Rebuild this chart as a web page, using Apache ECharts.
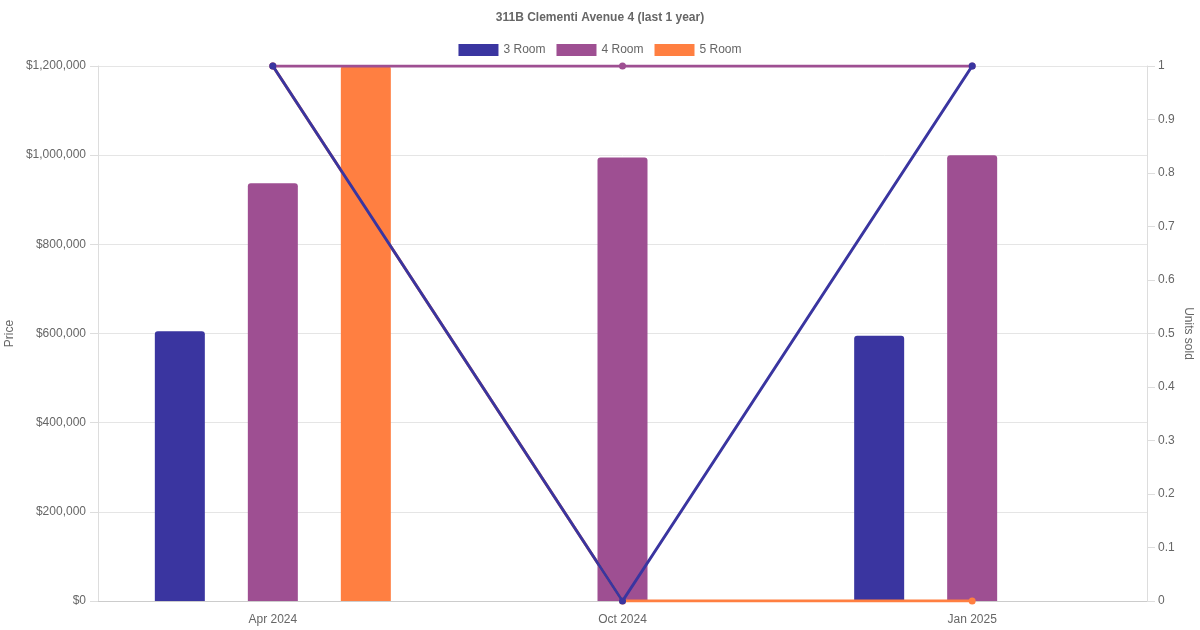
<!DOCTYPE html>
<html>
<head>
<meta charset="utf-8">
<title>311B Clementi Avenue 4</title>
<script src="https://cdn.jsdelivr.net/npm/echarts@6/dist/echarts.min.js"></script>
<style>
html, body { margin: 0; padding: 0; background: #fff; }
#main { width: 1200px; height: 630px; }
</style>
</head>
<body>
<div id="main"></div>
<script>
// chart data
var months = ['Apr 2024', 'Oct 2024', 'Jan 2025'];
var roomTypes = ['3 Room', '4 Room', '5 Room'];
var price3 = [605000, null, 595000];
var price4 = [937000, 995000, 1000000];
var price5 = [1200000, null, null];
var units3 = [1, 0, 1];
var units4 = [1, 1, 1];
var units5 = [1, 0, 0];
var colors = ['#3a35a0', '#9e4f92', '#ff7f41'];

var font = 'Liberation Sans, Arial, sans-serif';
var myChart = echarts.init(document.getElementById('main'));

function barSeries(i, data) {
	return {
		name: roomTypes[i],
		type: 'bar',
		yAxisIndex: 0,
		barWidth: 50,
		barGap: '86%',
		data: data,
		itemStyle: { color: colors[i], borderRadius: [3, 3, 0, 0] },
		z: 2
	};
}

function lineSeries(i, data, z) {
	return {
		name: roomTypes[i],
		type: 'line',
		yAxisIndex: 1,
		data: data,
		symbol: 'circle',
		symbolSize: 7,
		lineStyle: { width: 3, color: colors[i] },
		itemStyle: { color: colors[i] },
		z: z
	};
}

var option = {
	animation: false,
	textStyle: { fontFamily: font },
	title: {
		text: '311B Clementi Avenue 4 (last 1 year)',
		left: 'center',
		top: 7,
		textStyle: { fontSize: 12, fontWeight: 'bold', color: '#666', fontFamily: font }
	},
	legend: {
		data: roomTypes,
		top: 39,
		left: 'center',
		icon: 'rect',
		itemWidth: 40,
		itemHeight: 12,
		itemGap: 11,
		textStyle: { fontSize: 12, color: '#666', fontFamily: font }
	},
	grid: { left: 98, right: 53, top: 66, bottom: 29, outerBoundsMode: 'none', containLabel: false },
	xAxis: {
		type: 'category',
		data: months,
		axisLine: { lineStyle: { color: '#ccc' } },
		axisTick: { show: false },
		axisLabel: { fontSize: 12, color: '#666', margin: 13 },
		splitLine: { show: false }
	},
	yAxis: [{
		type: 'value',
		name: 'Price',
		nameLocation: 'middle',
		nameGap: 82,
		nameMoveOverlap: false,
		nameTextStyle: { fontSize: 12, color: '#666' },
		min: 0,
		max: 1200000,
		interval: 200000,
		axisLine: { show: true, lineStyle: { color: '#ddd' } },
		axisTick: { show: true, length: 8, lineStyle: { color: '#ddd' } },
		axisLabel: {
			fontSize: 12, color: '#666', margin: 12,
			formatter: function(v) { return '$' + v.toLocaleString('en-US'); }
		},
		splitLine: { lineStyle: { color: '#e5e5e5' } }
	}, {
		type: 'value',
		name: 'Units sold',
		nameLocation: 'middle',
		nameGap: 35,
		nameMoveOverlap: false,
		nameRotate: -90,
		nameTextStyle: { fontSize: 12, color: '#666' },
		min: 0,
		max: 1,
		interval: 0.1,
		axisLine: { show: true, lineStyle: { color: '#ddd' } },
		axisTick: { show: true, length: 8, lineStyle: { color: '#ddd' } },
		axisLabel: {
			fontSize: 12, color: '#666', margin: 11,
			formatter: function(v) { return String(+v.toFixed(1)); }
		},
		splitLine: { show: false }
	}],
	series: [
		barSeries(0, price3),
		barSeries(1, price4),
		barSeries(2, price5),
		lineSeries(2, units5, 3),
		lineSeries(1, units4, 4),
		lineSeries(0, units3, 5)
	]
};

myChart.setOption(option);
</script>
</body>
</html>
